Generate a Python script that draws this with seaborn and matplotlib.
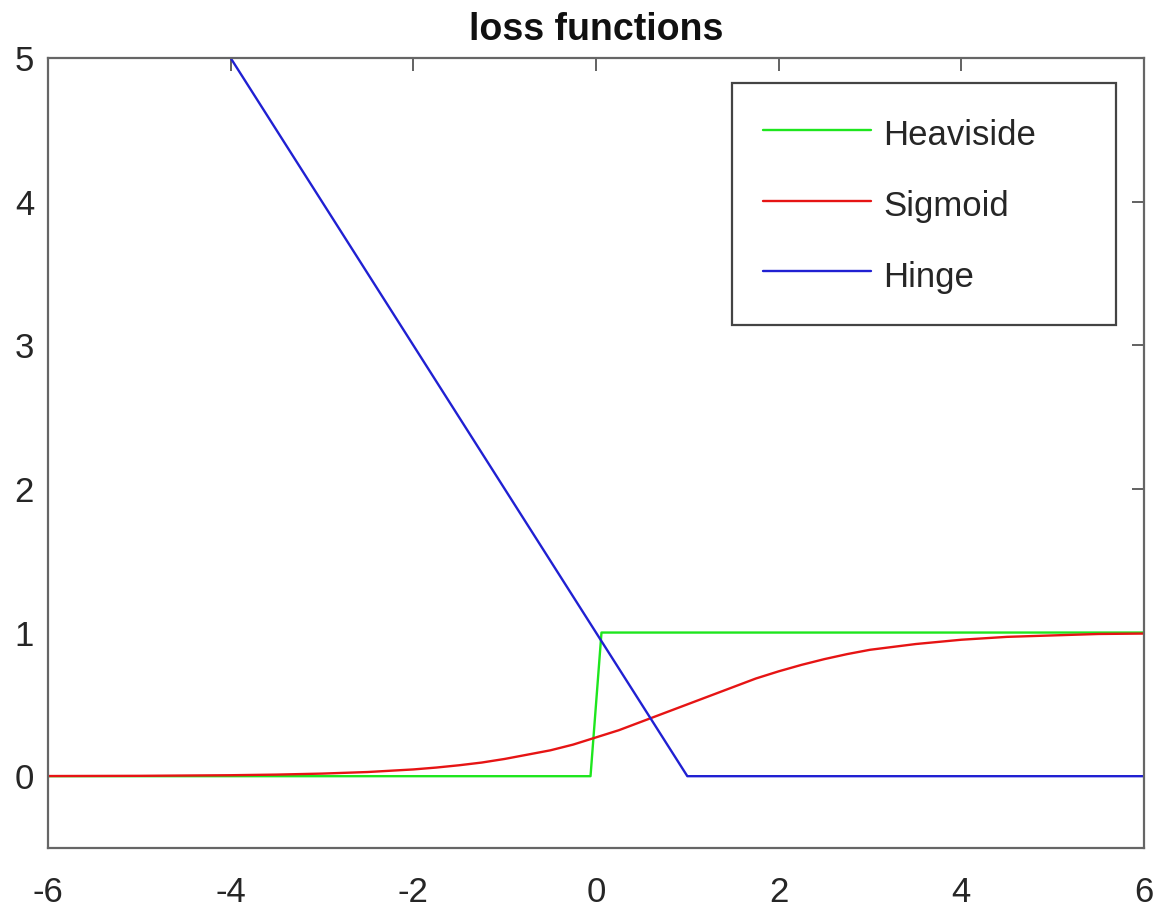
import matplotlib
matplotlib.use("Agg")
import matplotlib.pyplot as plt
import seaborn as sns

# values
heaviside_x = [-6, -0.06, 0.06, 6]
heaviside_y = [0, 0, 1, 1]

sigmoid_x = [-6, -5, -4, -3.5, -3, -2.5, -2, -1.75, -1.5, -1.25, -1, -0.75,
             -0.5, -0.25, 0, 0.25, 0.5, 0.75, 1, 1.25, 1.5, 1.75, 2, 2.25,
             2.5, 2.75, 3, 3.25, 3.5, 4, 4.5, 5, 5.5, 6]
sigmoid_y = [0.001, 0.0025, 0.0067, 0.011, 0.018, 0.029, 0.047, 0.06, 0.076,
             0.095, 0.12, 0.15, 0.18, 0.22, 0.27, 0.32, 0.38, 0.44, 0.50,
             0.56, 0.62, 0.68, 0.73, 0.775, 0.815, 0.85, 0.88, 0.90, 0.92,
             0.95, 0.97, 0.98, 0.99, 0.993]

hinge_x = [-6, 1, 6]
hinge_y = [7, 0, 0]

x_ticks = [-6, -4, -2, 0, 2, 4, 6]
y_ticks = [0, 1, 2, 3, 4, 5]

sns.set_style("white")
plt.rcParams['font.family'] = ['Liberation Sans', 'DejaVu Sans']
plt.rcParams['axes.unicode_minus'] = False

fig = plt.figure(figsize=(11.61, 9.09), dpi=100)
ax = fig.add_axes([0.0413, 0.0671, 0.9441, 0.8691])

sns.lineplot(x=heaviside_x, y=heaviside_y, color='#1ee61e', lw=1.7,
             label='Heaviside', ax=ax)
sns.lineplot(x=sigmoid_x, y=sigmoid_y, color='#e61414', lw=1.7,
             label='Sigmoid', ax=ax)
sns.lineplot(x=hinge_x, y=hinge_y, color='#2020d2', lw=1.7,
             label='Hinge', ax=ax)

ax.set_xlim(-6, 6)
ax.set_ylim(-0.5, 5)
ax.set_xticks(x_ticks)
ax.set_yticks(y_ticks)
ax.tick_params(direction='in', length=9, width=1.3, colors='#555555',
               labelcolor='#262626', labelsize=25, top=True, right=True)
ax.tick_params(axis='x', pad=20)
ax.tick_params(axis='y', pad=10)
for s in ax.spines.values():
    s.set_color('#666666')
    s.set_linewidth(1.6)

ax.set_title('loss functions', fontsize=27, fontweight='bold', pad=13,
             color='#111111')

leg = ax.legend(loc='upper left', bbox_to_anchor=(0.624, 0.968, 0.35, 0.0),
                mode='expand', borderaxespad=0, fontsize=25,
                handlelength=3.1, handleheight=1.3, labelspacing=0.95,
                borderpad=0.9, handletextpad=0.35, fancybox=False,
                framealpha=1)
leg.get_frame().set_edgecolor('#444444')
leg.get_frame().set_linewidth(1.6)

fig.savefig('out.png', dpi=100)
